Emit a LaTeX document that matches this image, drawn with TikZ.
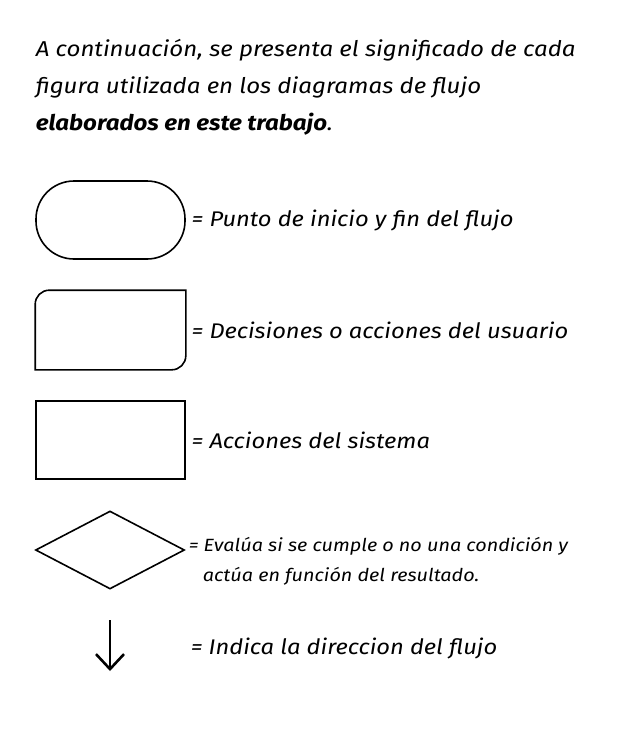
\documentclass[tikz,border=0pt]{standalone}
\usepackage{fontspec}
\setmainfont{Fira Sans}[FakeStretch=1.12]
\usetikzlibrary{positioning,arrows.meta,shapes.geometric}
\begin{document}
\begin{tikzpicture}[x=1pt,y=-1pt,line width=1.6pt,
  figura/.style={minimum width=149pt, minimum height=78pt, inner sep=0pt},
  leyenda/.style={anchor=west, inner sep=0pt, font=\fontsize{21.2}{25}\selectfont\itshape},
  linea/.style={anchor=base west, inner sep=0pt, font=\fontsize{21.5}{25}\selectfont\itshape}]
\useasboundingbox (0,0) rectangle (620,740);
\node[linea] (intro1) at (35,56){A continuación, se presenta el significado de cada};
\node[linea] (intro2) at (35,93){figura utilizada en los diagramas de flujo};
\node[linea] (intro3) at (35,130){\textbf{elaborados en este trabajo}.};
\node[figura, draw, rounded corners=38pt] (inicio) at (110.5,220){};
\node[leyenda, right=5pt of inicio] (tinicio){= Punto de inicio y fin del flujo};
\node[figura] (usuario) at (110.5,330){};
\draw[](usuario.south west) -- ([yshift=-14pt]usuario.north west)
  .. controls ([yshift=-6.3pt]usuario.north west) and ([xshift=6.3pt]usuario.north west) .. ([xshift=14pt]usuario.north west)
  -- (usuario.north east) -- ([yshift=14pt]usuario.south east)
  .. controls ([yshift=6.3pt]usuario.south east) and ([xshift=-6.3pt]usuario.south east) .. ([xshift=-14pt]usuario.south east) -- cycle;
\node[leyenda, right=5pt of usuario] (tusuario){= Decisiones o acciones del usuario};
\node[figura, draw] (sistema) at (110.5,440){};
\node[leyenda, right=5pt of sistema] (tsistema){= Acciones del sistema};
\node[figura, draw, diamond, aspect=1.9] (condicion) at (110,550){};
\node[leyenda, align=left, font=\fontsize{17.7}{30}\selectfont\itshape] (tcondicion) at (188,561)
  {= Evalúa si se cumple o no una condición y\\\hspace*{14pt}actúa en función del resultado.};
\coordinate (flujoA) at (110,620);
\coordinate (flujoB) at (110,671);
\draw[line width=2.6pt, -{Straight Barb[length=15pt,width=28pt]}](flujoA) -- (flujoB);
\node[leyenda] (tflujo) at (190,648){= Indica la direccion del flujo};
\end{tikzpicture}
\end{document}
